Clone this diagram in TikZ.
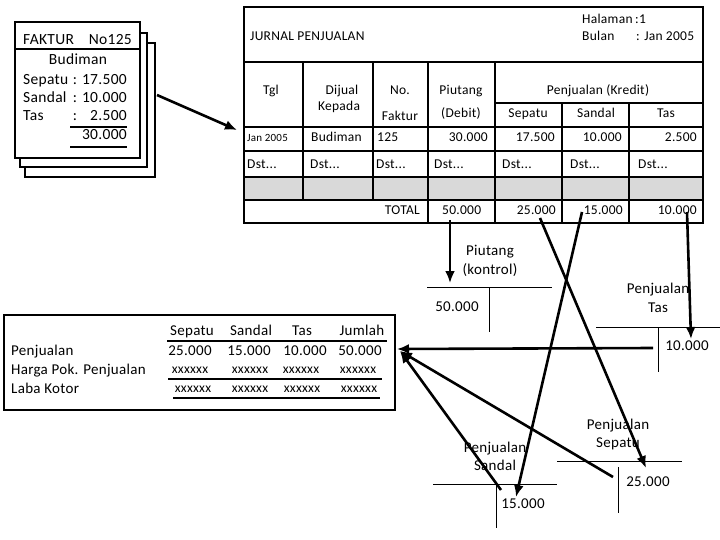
\documentclass[tikz,border=0pt]{standalone}
\usepackage{fontspec}
\setmainfont{Carlito}[LetterSpace=2]
\usepackage{tikz}
\usetikzlibrary{arrows.meta}

\begin{document}
\begin{tikzpicture}[x=1pt, y=-1pt,
	every node/.style={inner sep=0pt, text height=1.5ex, text depth=.4ex, font=\fontsize{13.5}{15}\selectfont},
	big/.style={font=\fontsize{15.5}{17}\selectfont},
	mid/.style={font=\fontsize{15}{17}\selectfont},
	flow/.style={-{Latex[length=12pt,width=10pt]}, line width=2.6pt},
	frame/.style={line width=2.6pt},
	grid/.style={line width=1.8pt},
	uline/.style={line width=1.6pt},
	tacc/.style={line width=0.9pt}]
	\useasboundingbox (0,0) rectangle (720,540);
	% faktur stack
	\foreach \l/\t/\r/\b in {25/43/155/177, 20/33/147/167, 15/22/140/158}
		\filldraw [frame, fill=white] (\l,\t) rectangle (\r,\b);
	\draw [grid] (15,49) -- (140,49);
	\node [big, anchor=west] (fak) at (23,42) {FAKTUR};
	\node [big, anchor=east] (fakno) at (132,42) {No125};
	\node [big] (fakcust) at (78,62) {Budiman};
	\foreach \n/\lab/\val/\y in {sep/Sepatu/17.500/82, san/Sandal/10.000/100, tas/Tas/2.500/118}{
		\node [big, anchor=west] (fak\n) at (23,\y) {\lab};
		\node [big] at (75,\y) {:};
		\node [big, anchor=east] (fak\n v) at (127,\y) {\val};
	}
	\node [big, anchor=east] (faktot) at (127,137) {30.000};
	\draw [uline] (70,127) -- (127,127);
	\draw [uline] (70,147) -- (127,147);
	\coordinate (fakout) at (157,95);
	\coordinate (jurin) at (237,130);
	\draw [flow] (fakout) -- (jurin);

	% jurnal penjualan
	\fill [gray!30] (244,177) rectangle (703,200);
	\draw [frame] (244,7) rectangle (703,223);
	\draw [grid] (244,62) -- (703,62);
	\draw [grid] (495,103) -- (703,103);
	\foreach \y in {127,151,177,200}
		\draw [grid] (244,\y) -- (703,\y);
	\foreach \x in {303,373}
		\draw [grid] (\x,62) -- (\x,200);
	\foreach \x in {428,495}
		\draw [grid] (\x,62) -- (\x,223);
	\foreach \x in {562,629}
		\draw [grid] (\x,103) -- (\x,223);
	\node [anchor=west] (jtitle) at (250,38) {JURNAL PENJUALAN};
	\node [anchor=west] (jhal) at (582,21) {Halaman};
	\node [anchor=west] (jhalv) at (635,21) {:1};
	\node [anchor=west] (jbln) at (582,38) {Bulan};
	\node [anchor=west] (jblnv) at (636,38) {: Jan 2005};
	\node (htgl) at (271,92) {Tgl};
	\node (hdij) at (342,92) {Dijual};
	\node (hkep) at (339,108) {Kepada};
	\node (hno) at (400,92) {No.};
	\node (hfak) at (400,118) {Faktur};
	\node (hpiu) at (461,92) {Piutang};
	\node (hdeb) at (461,115) {(Debit)};
	\node (hkre) at (598,92) {Penjualan (Kredit)};
	\node (hsep) at (528,115) {Sepatu};
	\node (hsan) at (596,115) {Sandal};
	\node (htas) at (666,115) {Tas};
	\node [anchor=west, font=\fontsize{11}{13}\selectfont] (r1tgl) at (247,139) {Jan 2005};
	\node [anchor=west] (r1cust) at (311,139) {Budiman};
	\node [anchor=west] (r1no) at (377,139) {125};
	\node [anchor=east] (r1piu) at (488,139) {30.000};
	\node [anchor=east] (r1sep) at (555,139) {17.500};
	\node [anchor=east] (r1san) at (622,139) {10.000};
	\node [anchor=east] (r1tas) at (697,139) {2.500};
	\foreach \x [count=\i] in {247,310,376,434,502,570,638}
		\node [anchor=west] (dst\i) at (\x,166) {Dst...};
	\node [anchor=east] (ttot) at (420,212) {TOTAL};
	\node [anchor=west] (tpiu) at (442,212) {50.000};
	\node [anchor=east] (tsep) at (556,212) {25.000};
	\node [anchor=east] (tsan) at (623,212) {15.000};
	\node [anchor=east] (ttas) at (697,212) {10.000};

	% laporan laba kotor
	\draw [frame] (4,315) rectangle (395,410);
	\foreach \lab/\x in {Sepatu/192, Sandal/251, Tas/302, Jumlah/362}
		\node [mid] (l\lab) at (\x,333) {\lab};
	\draw [uline] (167,341) -- (387,341);
	\node [mid, anchor=west] (lpen) at (11,353) {Penjualan};
	\node [mid, anchor=west] (lhpp) at (11,372) {Harga Pok. Penjualan};
	\node [mid, anchor=west] (llaba) at (11,391) {Laba Kotor};
	\foreach \val/\x in {25.000/190, 15.000/249, 10.000/305, 50.000/360}
		\node [mid] at (\x,353) {\val};
	\foreach \x in {190,250,301,358}
		\node at (\x,371) {xxxxxx};
	\foreach \x in {193,250,302,359}
		\node at (\x,390) {xxxxxx};
	\draw [uline] (168,379) -- (382,379);
	\draw [uline] (173,398) -- (380,398);

	% buku besar
	\node [mid] (piuname) at (490,253) {Piutang};
	\node [mid] (piukon) at (490,272) {(kontrol)};
	\draw [tacc] (427,287) -- (552,287);
	\draw [tacc] (489,287) -- (489,332);
	\node [mid] (piuv) at (457,309) {50.000};

	\node [mid] (tasname) at (658,291) {Penjualan};
	\node [mid] (tasacc) at (658,310) {Tas};
	\draw [tacc] (596,327) -- (720,327);
	\draw [tacc] (658,327) -- (658,372);
	\node [mid] (tasv) at (687,348) {10.000};

	\node [mid] (sepname) at (618,427) {Penjualan};
	\node [mid] (sepacc) at (618,445) {Sepatu};
	\draw [tacc] (557,461) -- (682,461);
	\draw [tacc] (618,467) -- (618,513);
	\node [mid] (sepv) at (648,484) {25.000};

	\node [mid] (sanname) at (495,450) {Penjualan};
	\node [mid] (sanacc) at (495,468) {Sandal};
	\draw [tacc] (433,484) -- (557,484);
	\draw [tacc] (496,484) -- (496,528);
	\node [mid] (sanv) at (523,506) {15.000};

	% posting
	\coordinate (o50) at (450,220);
	\coordinate (o25) at (540,218);
	\coordinate (o15) at (582,212);
	\coordinate (o10) at (687,212);
	\coordinate (ipiu) at (450,283);
	\coordinate (isep) at (646,468);
	\coordinate (isan) at (516,497);
	\coordinate (itas) at (691,339);
	\coordinate (otas) at (653,348);
	\coordinate (osep) at (613,477);
	\coordinate (osan) at (501,490);
	\coordinate (lin) at (397,349);
	\coordinate (lin2) at (400,351);
	\draw [flow] (o50) -- (ipiu);
	\draw [flow] (o25) -- (isep);
	\draw [flow] (o15) -- (isan);
	\draw [flow] (o10) -- (itas);
	\draw [flow] (otas) -- (lin);
	\draw [flow] (osep) -- (lin2);
	\draw [flow] (osan) -- (lin2);
\end{tikzpicture}
\end{document}
